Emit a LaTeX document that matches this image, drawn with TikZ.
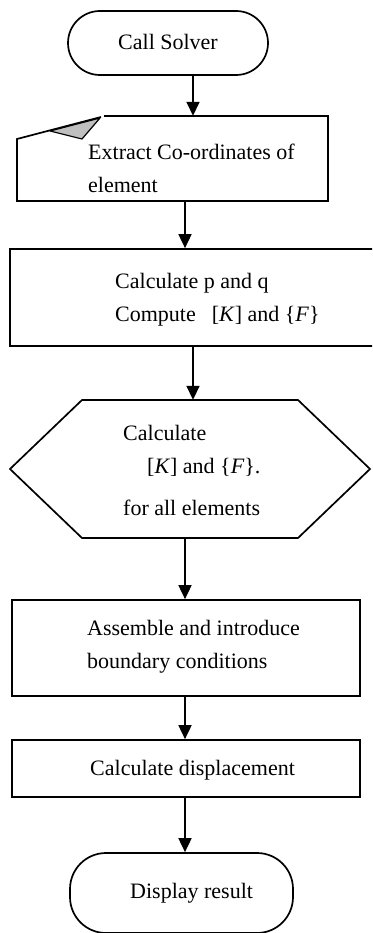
\documentclass[tikz,border=0pt]{standalone}
\usepackage{fontspec}
\setmainfont{Liberation Serif}
\usetikzlibrary{arrows.meta,calc}

\tikzset{
  outline/.style={draw=black, line width=1.7pt, line join=miter},
  txt/.style={inner sep=0pt, font=\fontsize{22}{33}\selectfont, align=left},
  frame/.style={inner sep=0pt, draw=none},
  arr/.style={line width=1.7pt, -{Triangle[length=14pt,width=13pt]}},
}

\begin{document}
\begin{tikzpicture}[x=1pt,y=-1pt]
\useasboundingbox (0,0) rectangle (372,933);
\clip (0,0) rectangle (372,933);

% start terminal
\node[outline, rounded corners=32pt, minimum width=200pt, minimum height=64pt] (cs) at (168,43) {};
\node[txt, anchor=base west] (cstext) at (118,50) {Call Solver};

% card with folded corner
\node[frame, minimum width=311pt, minimum height=85pt] (card) at (172.5,158.5) {};
\draw[outline] (104,116) -- (328,116) -- (328,201) -- (17,201) -- (17,139) -- (101,117);
\filldraw[fill=black!25, draw=black, line width=1.2pt, line join=round]
  (50,131) -- (100,118) -- (82,139) -- cycle;
\node[txt, anchor=west] (cardtext) at (88,168) {Extract Co-ordinates of\\element};

% element matrices
\node[outline, minimum width=370pt, minimum height=97pt] (calc) at (195,297.5) {};
\node[txt, anchor=west] (calctext) at (115,300)
  {Calculate p and q\\Compute\hspace{16pt}[\textit{K}] and \{\textit{F}\}};

% loop over all elements
\node[frame, minimum width=360pt, minimum height=138pt] (hex) at (190,469) {};
\draw[outline] (10,469) -- (82,400) -- (298,400) -- (370,469) -- (298,538) -- (82,538) -- cycle;
\node[txt, anchor=west] (hextext) at (123,470)
  {Calculate\\\hspace*{24pt}[\textit{K}] and \{\textit{F}\}.\\[9pt]for all elements};

% assembly
\node[outline, minimum width=348pt, minimum height=96pt] (asm) at (186,648) {};
\node[txt, anchor=west] (asmtext) at (87,647) {Assemble and introduce\\boundary conditions};

% solve
\node[outline, minimum width=348pt, minimum height=57pt] (disp) at (186,768.5) {};
\node[txt, anchor=base west] (disptext) at (90,775) {Calculate displacement};

% end terminal
\node[outline, rounded corners=36pt, minimum width=223pt, minimum height=80pt] (res) at (181.5,893) {};
\node[txt, anchor=base west] (restext) at (130,898) {Display result};

% connectors
\draw[arr] (cs.south -| 193,0) -- (card.north -| 193,0);
\draw[arr] (card.south -| 185,0) -- (calc.north -| 185,0);
\draw[arr] (calc.south -| 193,0) -- (hex.north -| 193,0);
\draw[arr] (hex.south -| 185,0) -- (asm.north -| 185,0);
\draw[arr] (asm.south -| 185,0) -- (disp.north -| 185,0);
\draw[arr] (disp.south -| 185,0) -- (res.north -| 185,0);
\end{tikzpicture}
\end{document}
